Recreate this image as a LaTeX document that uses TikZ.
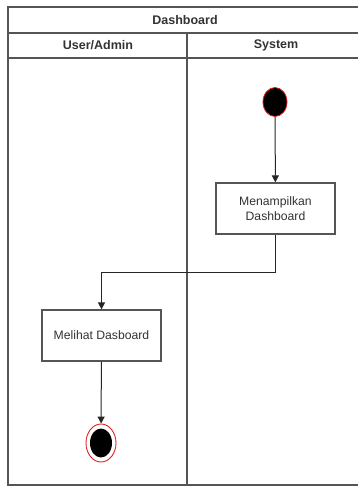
\documentclass[tikz,border=0pt]{standalone}
\usepackage{fontspec}
\setmainfont{Liberation Sans}
\usetikzlibrary{arrows.meta,shapes.geometric}
\definecolor{frameline}{HTML}{555555}
\definecolor{txt}{HTML}{333333}
\definecolor{ringred}{HTML}{E02020}
\tikzset{
  lane/.style={draw=frameline, line width=1.3pt},
  action/.style={draw=frameline, line width=1.2pt, fill=white, minimum width=119pt,
    minimum height=51pt, align=center, font=\fontsize{12.2}{15}\selectfont, text=txt},
  title/.style={font=\bfseries\fontsize{12.5}{14}\selectfont, text=txt},
  flow/.style={draw=black!85, line width=1pt, -{Triangle[length=7pt,width=7pt]}},
}
\begin{document}
\begin{tikzpicture}[x=1pt, y=-1pt]
  \useasboundingbox (0,0) rectangle (358,488);
  \begin{scope}
    \clip (0,0) rectangle (358,488);
    % swimlane frame
    \draw[lane] (8,7) rectangle (366,485);
    \draw[lane] (8,33) -- (366,33);
    \draw[lane] (8,58) -- (366,58);
    \draw[lane] (187,33) -- (187,485);
  \end{scope}
  \node[title] (pool) at (185,20) {Dashboard};
  \node[title] (laneA) at (98,45.5) {User/Admin};
  \node[title] (laneB) at (276,45.5) {System};

  % start node
  \node[ellipse, draw=ringred, line width=0.8pt, fill=black, minimum width=24pt,
        minimum height=29pt, inner sep=0pt] (start) at (275,102) {};
  \node[action] (show) at (275.5,208.5) {Menampilkan\\Dashboard};
  \node[action] (view) at (101.5,335.5) {Melihat Dasboard};
  % end node
  \node[ellipse, draw=ringred, line width=0.9pt, fill=white, minimum width=30pt,
        minimum height=38pt, inner sep=0pt] (final) at (101,443) {};
  \node[ellipse, fill=black, minimum width=22pt, minimum height=29pt,
        inner sep=0pt] (finalcore) at (101,443) {};

  \draw[flow] (start) -- (show);
  \draw[flow] (show.south) |- (101.5,272) -- (view.north);
  \draw[flow] (view) -- (final);
\end{tikzpicture}
\end{document}
